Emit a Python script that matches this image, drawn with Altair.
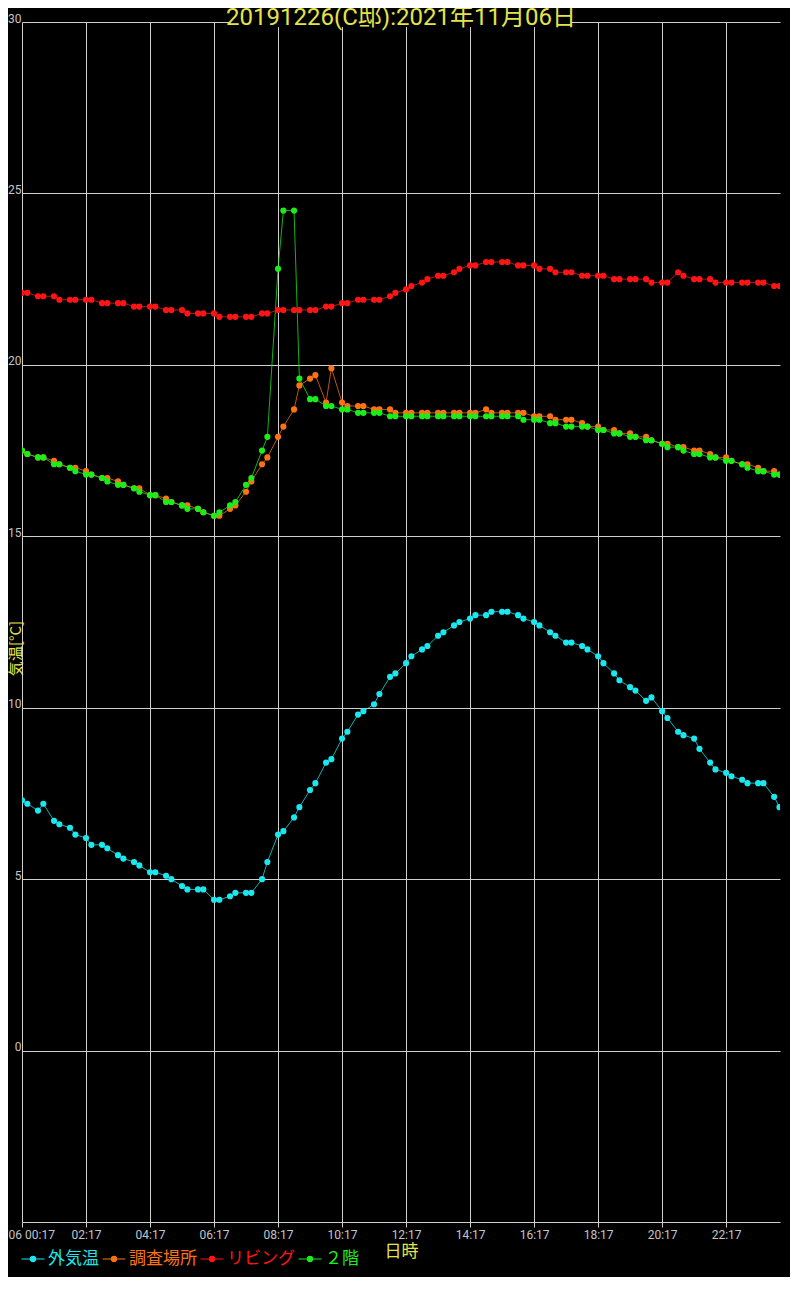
import altair as alt
import pandas as pd

TITLE = "20191226(C邸):2021年11月06日"
X_TITLE = "日時"
Y_TITLE = "気温[°C]"
DATE = "2021-11-06"

TIMES = [
    "00:17", "00:27", "00:47", "00:57", "01:17", "01:27", "01:47", "01:57",
    "02:17", "02:27", "02:47", "02:57", "03:17", "03:27", "03:47", "03:57",
    "04:17", "04:27", "04:47", "04:57", "05:17", "05:27", "05:47", "05:57",
    "06:17", "06:27", "06:47", "06:57", "07:17", "07:27", "07:47", "07:57",
    "08:17", "08:27", "08:47", "08:57", "09:17", "09:27", "09:47", "09:57",
    "10:17", "10:27", "10:47", "10:57", "11:17", "11:27", "11:47", "11:57",
    "12:17", "12:27", "12:47", "12:57", "13:17", "13:27", "13:47", "13:57",
    "14:17", "14:27", "14:47", "14:57", "15:17", "15:27", "15:47", "15:57",
    "16:17", "16:27", "16:47", "16:57", "17:17", "17:27", "17:47", "17:57",
    "18:17", "18:27", "18:47", "18:57", "19:17", "19:27", "19:47", "19:57",
    "20:17", "20:27", "20:47", "20:57", "21:17", "21:27", "21:47", "21:57",
    "22:17", "22:27", "22:47", "22:57", "23:17", "23:27", "23:47", "23:57",
]

SERIES = ["外気温", "調査場所", "リビング", "２階"]
COLORS = ["#1ae8ee", "#ff7214", "#ff1414", "#1aee1a"]

OUTSIDE = [
    7.3, 7.2, 7.0, 7.2, 6.7, 6.6, 6.5, 6.3, 6.2, 6.0, 6.0, 5.9,
    5.7, 5.6, 5.5, 5.4, 5.2, 5.2, 5.1, 5.0, 4.8, 4.7, 4.7, 4.7,
    4.4, 4.4, 4.5, 4.6, 4.6, 4.6, 5.0, 5.5, 6.3, 6.4, 6.8, 7.1,
    7.6, 7.8, 8.4, 8.5, 9.1, 9.3, 9.8, 9.9, 10.1, 10.4, 10.9, 11.0,
    11.3, 11.5, 11.7, 11.8, 12.1, 12.2, 12.4, 12.5, 12.6, 12.7, 12.7, 12.8,
    12.8, 12.8, 12.7, 12.6, 12.5, 12.4, 12.2, 12.1, 11.9, 11.9, 11.8, 11.7,
    11.5, 11.3, 11.0, 10.8, 10.6, 10.5, 10.2, 10.3, 9.9, 9.7, 9.3, 9.2,
    9.1, 8.8, 8.4, 8.2, 8.1, 8.0, 7.9, 7.8, 7.8, 7.8, 7.4, 7.1,
]

SURVEY = [
    17.5, 17.4, 17.3, 17.3, 17.2, 17.1, 17.0, 17.0, 16.9, 16.8, 16.7, 16.7,
    16.6, 16.5, 16.4, 16.4, 16.2, 16.2, 16.1, 16.0, 15.9, 15.9, 15.8, 15.7,
    15.6, 15.6, 15.8, 15.9, 16.3, 16.6, 17.1, 17.3, 17.9, 18.2, 18.7, 19.4,
    19.6, 19.7, 18.9, 19.9, 18.9, 18.8, 18.8, 18.8, 18.7, 18.7, 18.7, 18.6,
    18.6, 18.6, 18.6, 18.6, 18.6, 18.6, 18.6, 18.6, 18.6, 18.6, 18.7, 18.6,
    18.6, 18.6, 18.6, 18.6, 18.5, 18.5, 18.5, 18.4, 18.4, 18.4, 18.3, 18.2,
    18.2, 18.1, 18.1, 18.0, 18.0, 17.9, 17.9, 17.8, 17.7, 17.7, 17.6, 17.6,
    17.5, 17.5, 17.4, 17.3, 17.3, 17.2, 17.1, 17.1, 17.0, 16.9, 16.9, 16.8,
]

LIVING = [
    22.1, 22.1, 22.0, 22.0, 22.0, 21.9, 21.9, 21.9, 21.9, 21.9, 21.8, 21.8,
    21.8, 21.8, 21.7, 21.7, 21.7, 21.7, 21.6, 21.6, 21.6, 21.5, 21.5, 21.5,
    21.5, 21.4, 21.4, 21.4, 21.4, 21.4, 21.5, 21.5, 21.6, 21.6, 21.6, 21.6,
    21.6, 21.6, 21.7, 21.7, 21.8, 21.8, 21.9, 21.9, 21.9, 21.9, 22.0, 22.1,
    22.2, 22.3, 22.4, 22.5, 22.6, 22.6, 22.7, 22.8, 22.9, 22.9, 23.0, 23.0,
    23.0, 23.0, 22.9, 22.9, 22.9, 22.8, 22.8, 22.7, 22.7, 22.7, 22.6, 22.6,
    22.6, 22.6, 22.5, 22.5, 22.5, 22.5, 22.5, 22.4, 22.4, 22.4, 22.7, 22.6,
    22.5, 22.5, 22.5, 22.4, 22.4, 22.4, 22.4, 22.4, 22.4, 22.4, 22.3, 22.3,
]

FLOOR2 = [
    17.5, 17.4, 17.3, 17.3, 17.1, 17.1, 17.0, 16.9, 16.8, 16.8, 16.7, 16.6,
    16.5, 16.5, 16.4, 16.3, 16.2, 16.2, 16.0, 16.0, 15.9, 15.8, 15.8, 15.7,
    15.6, 15.7, 15.9, 16.0, 16.5, 16.7, 17.5, 17.9, 22.8, 24.5, 24.5, 19.6,
    19.0, 19.0, 18.8, 18.8, 18.7, 18.7, 18.6, 18.6, 18.6, 18.6, 18.5, 18.5,
    18.5, 18.5, 18.5, 18.5, 18.5, 18.5, 18.5, 18.5, 18.5, 18.5, 18.5, 18.5,
    18.5, 18.5, 18.5, 18.4, 18.4, 18.4, 18.3, 18.3, 18.2, 18.2, 18.2, 18.2,
    18.1, 18.1, 18.0, 18.0, 17.9, 17.9, 17.8, 17.8, 17.7, 17.6, 17.6, 17.5,
    17.4, 17.4, 17.3, 17.3, 17.2, 17.2, 17.1, 17.0, 16.9, 16.9, 16.8, 16.8,
]

Y_TICKS = [0, 5, 10, 15, 20, 25, 30]

# ---- styling / layout (not data) ----
W, H = 758, 1200
YELLOW = "#e4e44a"
GRID = "#cfcfcf"
LABEL = "#c4c4c4"
FONT = "Roboto, 'Noto Sans CJK JP'"
CJK = "'Noto Sans CJK JP', Roboto"
LEGEND_CX = [11, 92, 190, 288]
LEGEND_Y = 1237

frames = []
for name, vals in zip(SERIES, [OUTSIDE, SURVEY, LIVING, FLOOR2]):
    frames.append(pd.DataFrame({
        "series": name,
        "time": [f"{DATE}T{t}:00" for t in TIMES],
        "value": vals,
    }))
df = pd.concat(frames, ignore_index=True)
df["order"] = range(len(df))

cscale = alt.Scale(domain=SERIES, range=COLORS)


def dt(h, m):
    return alt.DateTime(year=2021, month=11, date=6, hours=h, minutes=m)


x_enc = alt.X(
    "time:T",
    scale=alt.Scale(domain=[dt(0, 17), dt(23, 58)]),
    axis=alt.Axis(
        values=[dt(h, 17) for h in range(0, 24, 2)],
        labelExpr="timeFormat(datum.value, '%H:%M') == '00:17' ? '11/06 00:17' : timeFormat(datum.value, '%H:%M')",
        title=X_TITLE,
        grid=True, gridColor=GRID, gridWidth=1,
        domainColor=GRID, tickColor=GRID, tickSize=5,
        labelColor=LABEL, labelFontSize=12, labelFont="Roboto",
        labelFlush=False, labelOverlap=False, labelPadding=2,
        titleColor=YELLOW, titleFontSize=17, titleFont=CJK,
        titleFontWeight="normal", titlePadding=3,
    ),
)

y_enc = alt.Y(
    "value:Q",
    scale=alt.Scale(domain=[-5, 30], nice=False, zero=False),
    axis=alt.Axis(
        values=Y_TICKS,
        title=Y_TITLE,
        grid=True, gridColor=GRID, gridWidth=1,
        domain=False, ticks=False, tickSize=0,
        labelAlign="right", labelBaseline="alphabetic", labelPadding=1,
        labelColor=LABEL, labelFontSize=12, labelFont="Roboto",
        titleColor=YELLOW, titleFontSize=15, titleFont=CJK,
        titleFontWeight="normal",
        titleAngle=270, titleX=1, titleY=626,
        titleBaseline="bottom", titleAlign="center",
    ),
)

lines = alt.Chart(df).mark_line(strokeWidth=1, opacity=0.75, clip=True).encode(
    x=x_enc, y=y_enc,
    color=alt.Color("series:N", scale=cscale, legend=None),
)

points = alt.Chart(df).mark_circle(size=38, opacity=1, clip=True).encode(
    x=x_enc, y=y_enc,
    color=alt.Color("series:N", scale=cscale, legend=None),
    order=alt.Order("order:Q"),
)

# manual legend (line + dot + coloured label)
leg = pd.DataFrame({"series": SERIES, "cx": LEGEND_CX})
leg["x0"] = leg["cx"] - 11.5
leg["x1"] = leg["cx"] + 11.5
leg["tx"] = leg["cx"] + 15

leg_rule = alt.Chart(leg).mark_rule(strokeWidth=1).encode(
    x=alt.X("x0:Q", scale=None), x2="x1:Q", y=alt.value(LEGEND_Y),
    color=alt.Color("series:N", scale=cscale, legend=None),
)
leg_dot = alt.Chart(leg).mark_circle(size=40, opacity=1).encode(
    x=alt.X("cx:Q", scale=None), y=alt.value(LEGEND_Y),
    color=alt.Color("series:N", scale=cscale, legend=None),
)
leg_text = alt.Chart(leg).mark_text(
    align="left", baseline="middle", fontSize=17, font=CJK
).encode(
    x=alt.X("tx:Q", scale=None), y=alt.value(LEGEND_Y),
    text="series:N",
    color=alt.Color("series:N", scale=cscale, legend=None),
)

tdf = pd.DataFrame({"t": [TITLE]})
title_bg = alt.Chart(tdf).mark_rect(color="black").encode(
    x=alt.value(208), x2=alt.value(550), y=alt.value(-16), y2=alt.value(5)
)
title_txt = alt.Chart(tdf).mark_text(
    align="center", baseline="alphabetic", fontSize=24, color=YELLOW, font=FONT
).encode(x=alt.value(W / 2), y=alt.value(3), text="t:N")

chart = alt.layer(
    lines, points, leg_rule, leg_dot, leg_text, title_bg, title_txt
).properties(
    width=W, height=H,
    autosize=alt.AutoSizeParams(type="none"),
    padding={"left": 14, "top": 14, "right": 10, "bottom": 55},
).configure(
    background="black", font=FONT
).configure_view(stroke=None)

chart.save("out.html", embed_options={"renderer": "svg", "actions": False})
